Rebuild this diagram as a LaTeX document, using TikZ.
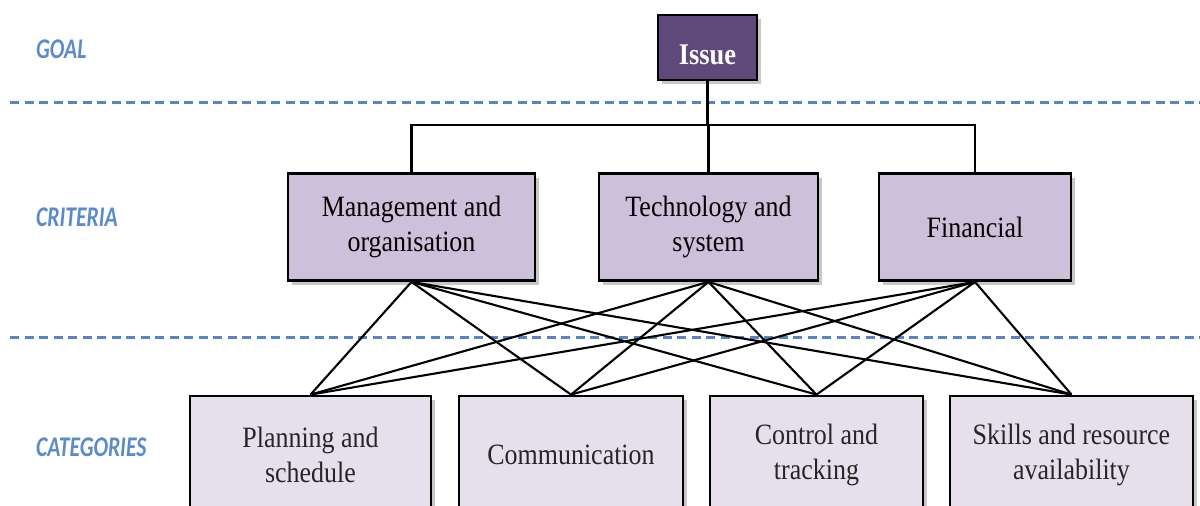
\documentclass[tikz,border=0pt]{standalone}
\usepackage{fontspec}
\usetikzlibrary{shadows}
\newfontfamily\boxfont[FakeStretch=0.88]{Liberation Serif}
\newfontfamily\labfont[FakeStretch=0.76]{Carlito}
\definecolor{issuefill}{HTML}{5F497A}
\definecolor{critfill}{HTML}{CCC0DA}
\definecolor{catfill}{HTML}{E5E0EC}
\definecolor{bluedash}{HTML}{5585C4}
\definecolor{bluelab}{HTML}{5B8BC9}
\tikzset{
  box/.style={draw=black, line width=2.8pt, inner sep=0pt, align=center,
    font=\boxfont\fontsize{29.5}{35}\selectfont,
    drop shadow={shadow xshift=4pt, shadow yshift=-4pt, opacity=0.22, fill=black}},
  issuebox/.style={box, fill=issuefill, text=white, text height=33pt, text depth=0pt,
    font=\boxfont\bfseries\fontsize{30}{35}\selectfont},
  critbox/.style={box, fill=critfill, minimum height=107pt},
  catbox/.style={box, fill=catfill, minimum height=118pt, text=black!85},
  lab/.style={anchor=west, inner sep=0pt, text=bluelab, font=\labfont\bfseries\itshape\fontsize{28.5}{30}\selectfont},
  sep/.style={draw=bluedash, line width=3pt, dash pattern=on 9pt off 5.5pt},
  conn/.style={draw=black, line width=2.1pt}
}
\begin{document}
\begin{tikzpicture}[x=1pt,y=-1pt]
\path[use as bounding box, clip] (0,0) rectangle (1200,506);
\fill[white] (0,0) rectangle (1200,506);
% separators
\coordinate (s1a) at (10,102); \coordinate (s1b) at (1200,102);
\coordinate (s2a) at (10,337); \coordinate (s2b) at (1200,337);
\draw[sep] (s1a) -- (s1b);
\draw[sep] (s2a) -- (s2b);
% labels
\node[lab] (lgoal) at (36,49) {GOAL};
\node[lab] (lcrit) at (36,217) {CRITERIA};
\node[lab] (lcat) at (36,447) {CATEGORIES};
% bus
\coordinate (bus) at (0,125);
\node[critbox, minimum width=247pt] (mgmt) at (411.5,227) {Management and\\organisation};
\node[critbox, minimum width=219pt] (tech) at (708.5,227) {Technology and\\system};
\node[critbox, minimum width=192pt] (fin) at (975,227) {Financial};
\node[catbox, minimum width=241pt] (plan) at (310.5,455) {Planning and\\schedule};
\node[catbox, minimum width=224pt] (comm) at (571,455) {Communication};
\node[catbox, minimum width=213pt] (ctrl) at (816.5,455) {Control and\\tracking};
\node[catbox, minimum width=243pt] (skill) at (1071.5,455) {Skills and resource\\availability};
\node[issuebox, minimum width=99pt, minimum height=65pt] (issue) at (707.5,47.5) {Issue};
\draw[conn] (issue.south) -- (issue.south |- bus);
\draw[conn] (mgmt.north) -- (mgmt.north |- bus) -| (fin.north);
\draw[conn] (tech.north) -- (tech.north |- bus);
\foreach \a in {mgmt,tech,fin}{
  \foreach \b in {plan,comm,ctrl,skill}{
    \draw[conn] (\a.south) -- (\b.north);
  }
}
\end{tikzpicture}
\end{document}
